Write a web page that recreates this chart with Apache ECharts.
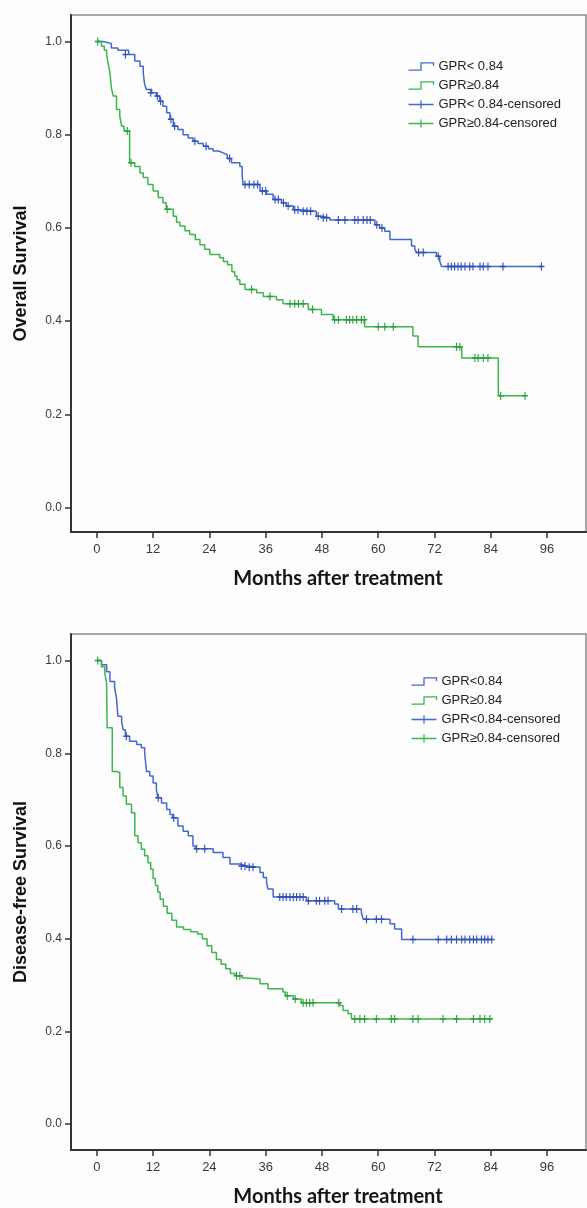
<!DOCTYPE html>
<html>
<head>
<meta charset="utf-8">
<script src="https://cdn.jsdelivr.net/npm/echarts@6/dist/echarts.min.js"></script>
<style>
html,body{margin:0;padding:0;background:#fdfdfe;}
#chart{width:587px;height:1208px;}
</style>
</head>
<body>
<div id="chart"></div>
<script>
// ---------- tick labels ----------
var monthTicks = [0, 12, 24, 36, 48, 60, 72, 84, 96];
var survTicks = [0, 0.2, 0.4, 0.6, 0.8, 1.0];

// ---------- legend names ----------
var osNames = ['GPR< 0.84', 'GPR\u22650.84', 'GPR< 0.84-censored', 'GPR\u22650.84-censored'];
var dfsNames = ['GPR<0.84', 'GPR\u22650.84', 'GPR<0.84-censored', 'GPR\u22650.84-censored'];

// ---------- Overall survival: GPR < 0.84 (month, survival) ----------
var osLow = [[0,1],[1.3,0.996],[3.1,0.986],[4.5,0.981],[6.8,0.972],[8.1,0.958],[9.2,0.947],[9.9,0.933],[10.2,0.908],[10.6,0.897],[11.7,0.89],[12.7,0.883],[13.4,0.872],[14.1,0.861],[14.9,0.847],[15.6,0.833],[16.3,0.818],[17.3,0.811],[18.4,0.8],[19.5,0.793],[20.5,0.786],[21.6,0.781],[22.7,0.775],[23.8,0.77],[24.8,0.765],[26.0,0.761],[26.9,0.757],[27.8,0.749],[28.7,0.74],[30.5,0.732],[31.0,0.711],[31.2,0.693],[34.8,0.679],[36.2,0.672],[37.6,0.661],[39.4,0.654],[40.4,0.647],[41.9,0.639],[43.3,0.636],[46.8,0.625],[47.9,0.622],[49.7,0.617],[59.3,0.607],[60.3,0.6],[61.4,0.593],[62.5,0.575],[67.1,0.561],[67.8,0.554],[68.2,0.547],[72.4,0.539],[73.1,0.529],[73.5,0.517],[94.8,0.517]];
var osLowCens = [[6.1,0.972],[11.5,0.89],[12.9,0.883],[13.6,0.872],[15.8,0.833],[16.6,0.818],[20.9,0.786],[23.3,0.775],[28.3,0.749],[31.6,0.693],[32.5,0.693],[33.5,0.693],[34.3,0.693],[35.3,0.679],[36.0,0.679],[38.0,0.661],[38.7,0.661],[39.8,0.654],[40.8,0.647],[42.2,0.639],[42.9,0.639],[44.0,0.636],[44.8,0.636],[45.6,0.636],[47.2,0.625],[48.3,0.622],[49.0,0.622],[51.5,0.617],[52.9,0.617],[55.0,0.617],[55.7,0.617],[56.8,0.617],[57.6,0.617],[58.3,0.617],[59.7,0.607],[60.8,0.6],[68.6,0.547],[69.6,0.547],[72.8,0.539],[74.9,0.517],[75.6,0.517],[76.3,0.517],[77.0,0.517],[77.7,0.517],[78.5,0.517],[79.5,0.517],[80.2,0.517],[81.7,0.517],[82.4,0.517],[83.4,0.517],[86.6,0.517],[94.8,0.517]];

// ---------- Overall survival: GPR >= 0.84 ----------
var osHigh = [[0,1],[1.0,0.99],[1.6,0.981],[2.1,0.972],[2.4,0.954],[2.8,0.933],[3.1,0.901],[3.5,0.883],[4.2,0.854],[4.9,0.84],[5.3,0.818],[5.8,0.808],[7.0,0.74],[8.1,0.732],[9.2,0.718],[9.9,0.708],[10.9,0.693],[12.0,0.679],[13.1,0.665],[14.1,0.654],[14.8,0.64],[16.3,0.625],[17.0,0.612],[17.7,0.604],[18.8,0.594],[19.8,0.586],[21.0,0.575],[22.0,0.564],[23.0,0.554],[24.1,0.543],[26.2,0.536],[27.0,0.528],[27.9,0.521],[28.8,0.506],[29.4,0.497],[29.9,0.489],[30.5,0.479],[31.6,0.468],[34.1,0.461],[35.5,0.453],[38.3,0.446],[39.7,0.437],[45.1,0.425],[47.9,0.414],[50.4,0.403],[57.1,0.388],[67.4,0.368],[68.5,0.345],[77.8,0.321],[85.6,0.24],[91.3,0.24]];
var osHighCens = [[0.2,1.0],[6.5,0.808],[7.3,0.74],[15.0,0.64],[33.0,0.468],[36.9,0.453],[41.2,0.437],[42.2,0.437],[43.0,0.437],[44.0,0.437],[46.0,0.425],[50.7,0.403],[51.5,0.403],[53.2,0.403],[53.9,0.403],[54.6,0.403],[55.4,0.403],[56.4,0.403],[57.0,0.403],[60.0,0.388],[61.4,0.388],[63.2,0.388],[76.7,0.345],[77.4,0.345],[80.6,0.321],[81.3,0.321],[82.4,0.321],[83.4,0.321],[86.1,0.24],[91.3,0.24]];

// ---------- Disease-free survival: GPR < 0.84 ----------
var dfsLow = [[0,1],[1.0,0.991],[2.1,0.976],[2.8,0.955],[3.8,0.941],[4.2,0.919],[4.5,0.88],[5.3,0.869],[5.6,0.851],[6.1,0.837],[7.0,0.826],[8.5,0.819],[9.5,0.812],[10.2,0.801],[10.6,0.761],[11.3,0.751],[12.0,0.736],[12.7,0.722],[13.0,0.704],[13.8,0.693],[14.9,0.679],[15.6,0.668],[16.2,0.661],[17.3,0.643],[18.4,0.632],[19.5,0.622],[20.5,0.6],[21.0,0.594],[24.8,0.586],[26.9,0.575],[28.4,0.561],[30.5,0.557],[32.0,0.554],[34.8,0.543],[35.5,0.532],[36.2,0.521],[36.5,0.507],[37.6,0.49],[44.7,0.482],[50.7,0.475],[51.5,0.464],[56.4,0.457],[56.8,0.442],[62.5,0.432],[63.5,0.421],[65.0,0.398],[84.2,0.398]];
var dfsLowCens = [[6.3,0.837],[13.1,0.704],[16.4,0.661],[21.3,0.594],[23.0,0.594],[30.8,0.557],[31.6,0.557],[32.5,0.554],[33.3,0.554],[39.0,0.49],[39.7,0.49],[40.4,0.49],[41.2,0.49],[41.9,0.49],[42.6,0.49],[43.3,0.49],[44.0,0.49],[45.1,0.482],[46.8,0.482],[47.5,0.482],[48.6,0.482],[49.3,0.482],[52.2,0.464],[54.6,0.464],[55.4,0.464],[57.5,0.442],[59.6,0.442],[60.7,0.442],[67.4,0.398],[72.8,0.398],[74.6,0.398],[75.6,0.398],[76.7,0.398],[77.8,0.398],[78.5,0.398],[79.5,0.398],[80.3,0.398],[81.0,0.398],[82.0,0.398],[82.7,0.398],[83.4,0.398],[84.2,0.398]];

// ---------- Disease-free survival: GPR >= 0.84 ----------
var dfsHigh = [[0,1],[1.0,0.987],[1.7,0.973],[2.1,0.951],[2.2,0.855],[3.3,0.761],[4.2,0.758],[4.9,0.726],[5.6,0.708],[6.3,0.69],[7.4,0.672],[8.1,0.622],[8.8,0.607],[9.5,0.593],[10.2,0.579],[10.9,0.564],[11.5,0.55],[12.0,0.53],[12.5,0.515],[13.0,0.5],[13.5,0.485],[14.2,0.47],[15.0,0.455],[16.0,0.44],[17.0,0.425],[18.5,0.42],[20.0,0.415],[21.5,0.41],[22.5,0.4],[23.5,0.385],[24.5,0.37],[25.5,0.355],[26.5,0.345],[27.5,0.335],[28.5,0.325],[29.5,0.32],[31.0,0.315],[32.0,0.313],[34.8,0.303],[36.5,0.292],[39.7,0.285],[40.2,0.277],[41.9,0.27],[43.6,0.262],[51.8,0.256],[52.5,0.245],[53.6,0.238],[54.3,0.227],[84.2,0.227]];
var dfsHighCens = [[0.2,1.0],[29.8,0.32],[30.5,0.32],[40.6,0.277],[42.3,0.27],[44.0,0.262],[44.7,0.262],[45.4,0.262],[46.1,0.262],[51.6,0.262],[55.0,0.227],[56.1,0.227],[57.1,0.227],[59.6,0.227],[62.8,0.227],[63.5,0.227],[67.4,0.227],[68.5,0.227],[73.8,0.227],[76.7,0.227],[80.3,0.227],[81.7,0.227],[82.7,0.227],[83.8,0.227]];

var BLUE = '#4468cf', GREEN = '#3db64d', BLUE_C = '#3150b8', GREEN_C = '#2c9f3d';
var CROSS = 'path://M0,4 L6,4 M3,0 L3,8';
var STEP_ICON = 'path://M0,7 L12,7 L12,0 L24,0 L24,3';
var CENS_ICON = 'path://M0,5 L25,5 M12.5,1 L12.5,9';

function xAxisDef(gi) {
  return {
    gridIndex: gi, type: 'value', min: -5.5, max: 104.3,
    name: 'Months after treatment', nameLocation: 'middle', nameGap: 37,
    nameTextStyle: {fontFamily: 'Lato', fontWeight: 'bold', fontSize: 20, color: '#151515', padding: [0, 0, 0, 19]},
    axisLine: {show: true, onZero: false, lineStyle: {color: '#333', width: 2}},
    axisTick: {show: true, length: 6, customValues: monthTicks, lineStyle: {color: '#333', width: 1.5}},
    axisLabel: {customValues: monthTicks, margin: 11, fontFamily: 'Liberation Sans', fontSize: 13, color: '#3a3a3a'},
    splitLine: {show: false}
  };
}
function yAxisDef(gi, name, mn, mx) {
  return {
    gridIndex: gi, type: 'value', min: mn, max: mx,
    name: name, nameLocation: 'middle', nameGap: 41, nameRotate: 90,
    nameTextStyle: {fontFamily: 'Liberation Sans', fontWeight: 'bold', fontSize: 18, color: '#111'},
    axisLine: {show: true, onZero: false, lineStyle: {color: '#333', width: 2}},
    axisTick: {show: true, length: 6, customValues: survTicks, lineStyle: {color: '#333', width: 1.5}},
    axisLabel: {customValues: survTicks, margin: 9, fontFamily: 'Liberation Sans', fontSize: 12, color: '#3a3a3a',
      formatter: function (v) { return v.toFixed(1); }},
    splitLine: {show: false}
  };
}
function lineSeries(gi, name, data, color) {
  return {type: 'line', name: name, xAxisIndex: gi, yAxisIndex: gi, data: data, step: 'end',
    showSymbol: false, symbol: 'none', lineStyle: {color: color, width: 1.5}, itemStyle: {color: color},
    silent: true, animation: false, z: 3};
}
function censSeries(gi, name, data, color) {
  return {type: 'scatter', name: name, xAxisIndex: gi, yAxisIndex: gi, data: data,
    symbol: CROSS, symbolSize: [6, 8],
    itemStyle: {color: 'none', borderColor: color, borderWidth: 1.3, opacity: 1},
    silent: true, animation: false, z: 4};
}
function legendDef(names, left, top) {
  return {
    orient: 'vertical', left: left, top: top, itemWidth: 25, itemHeight: 12, itemGap: 6,
    selectedMode: false, padding: 0,
    textStyle: {fontFamily: 'Liberation Sans', fontSize: 13, color: '#222'},
    data: [
      {name: names[0], icon: STEP_ICON, itemStyle: {color: 'none', borderColor: BLUE, borderWidth: 1.3}},
      {name: names[1], icon: STEP_ICON, itemStyle: {color: 'none', borderColor: GREEN, borderWidth: 1.3}},
      {name: names[2], icon: CENS_ICON, itemStyle: {color: 'none', borderColor: BLUE, borderWidth: 1.3}},
      {name: names[3], icon: CENS_ICON, itemStyle: {color: 'none', borderColor: GREEN, borderWidth: 1.3}}
    ]
  };
}

var chart = echarts.init(document.getElementById('chart'), null, {renderer: 'canvas'});
chart.setOption({
  backgroundColor: '#fdfdfe',
  animation: false,
  grid: [
    {left: 71, top: 15, right: 1, height: 517, show: true, borderColor: '#8a8a8a', borderWidth: 1.5, backgroundColor: 'transparent'},
    {left: 71, top: 634, right: 1, height: 518, show: true, borderColor: '#8a8a8a', borderWidth: 1.5, backgroundColor: 'transparent'}
  ],
  legend: [legendDef(osNames, 406, 60), legendDef(dfsNames, 409, 675)],
  xAxis: [xAxisDef(0), xAxisDef(1)],
  yAxis: [yAxisDef(0, 'Overall Survival', -0.0526, 1.0569), yAxisDef(1, 'Disease-free Survival', -0.0559, 1.0574)],
  series: [
    lineSeries(0, osNames[0], osLow, BLUE),
    lineSeries(0, osNames[1], osHigh, GREEN),
    censSeries(0, osNames[2], osLowCens, BLUE_C),
    censSeries(0, osNames[3], osHighCens, GREEN_C),
    lineSeries(1, dfsNames[0], dfsLow, BLUE),
    lineSeries(1, dfsNames[1], dfsHigh, GREEN),
    censSeries(1, dfsNames[2], dfsLowCens, BLUE_C),
    censSeries(1, dfsNames[3], dfsHighCens, GREEN_C)
  ]
});
</script>
</body>
</html>
